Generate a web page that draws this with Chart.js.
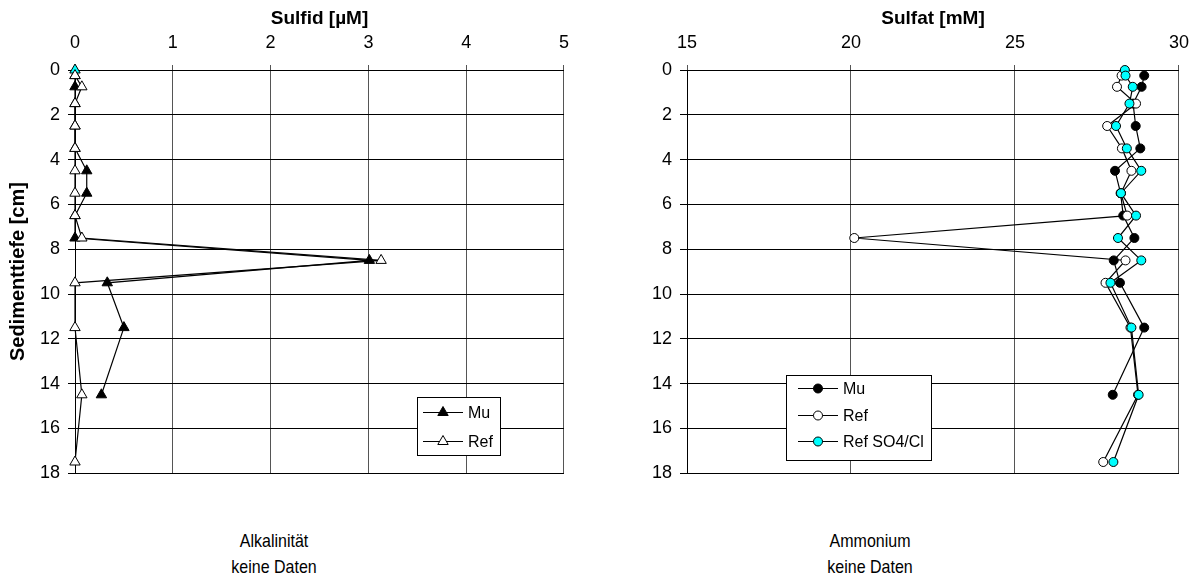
<!DOCTYPE html>
<html>
<head>
<meta charset="utf-8">
<script src="https://cdn.jsdelivr.net/npm/chart.js@4.4.1/dist/chart.umd.min.js"></script>
<style>
    body { margin: 0; background: #fff; width: 1201px; height: 586px; position: relative; overflow: hidden;
           font-family: "Liberation Sans", Arial, sans-serif; }
    canvas { position: absolute; top: 0; }
    #sulfidChart { left: 0; }
    #sulfatChart { left: 600px; }
    .nodata { position: absolute; width: 200px; text-align: center; font-size: 16px; line-height: 23px; color: #000;
              transform: scaleY(1.12); }
</style>
</head>
<body>
<canvas id="sulfidChart" width="580" height="492"></canvas>
<canvas id="sulfatChart" width="600" height="492"></canvas>
<div class="nodata" style="left:174px; top:531px;">Alkalinität<br>keine Daten</div>
<div class="nodata" style="left:770px; top:531px;">Ammonium<br>keine Daten</div>

<script>
// ===== DATA =====
// depth in cm (y), concentration (x)
const sulfidMuDepth = [0.25, 0.75, 1.5, 2.5, 3.5, 4.5, 5.5, 6.5, 7.5, 8.5, 9.5, 11.5, 14.5];
const sulfidMu      = [0, 0, 0, 0, 0, 0.12, 0.12, 0, 0, 3.01, 0.33, 0.5, 0.27];
const sulfidRefDepth = [0, 0.25, 0.75, 1.5, 2.5, 3.5, 4.5, 5.5, 6.5, 7.5, 8.5, 9.5, 11.5, 14.5, 17.5];
const sulfidRef      = [0, 0, 0.07, 0, 0, 0, 0, 0, 0, 0.07, 3.13, 0, 0, 0.07, 0];

const sulfatMuDepth = [0.25, 0.75, 1.5, 2.5, 3.5, 4.5, 5.5, 6.5, 7.5, 8.5, 9.5, 11.5, 14.5];
const sulfatMu      = [28.94, 28.86, 28.6, 28.68, 28.82, 28.05, 28.22, 28.3, 28.64, 28.01, 28.2, 28.94, 27.98];
const sulfatRefDepth = [0.25, 0.75, 1.5, 2.5, 3.5, 4.5, 5.5, 6.5, 7.5, 8.5, 9.5, 11.5, 14.5, 17.5];
const sulfatRef      = [28.25, 28.11, 28.69, 27.81, 28.26, 28.55, 28.23, 28.42, 20.1, 28.37, 27.76, 28.52, 28.75, 27.69];
const sulfatClDepth = [0, 0.25, 0.75, 1.5, 2.5, 3.5, 4.5, 5.5, 6.5, 7.5, 8.5, 9.5, 11.5, 14.5, 17.5];
const sulfatCl      = [28.35, 28.37, 28.59, 28.49, 28.08, 28.41, 28.85, 28.23, 28.69, 28.14, 28.85, 27.91, 28.55, 28.77, 28.0];

const depthTicks = [0, 2, 4, 6, 8, 10, 12, 14, 16, 18];

const FONT = "'Liberation Sans', Arial, sans-serif";

function toPoints(xs, depths) {
    return xs.map((v, i) => ({ x: v, y: depths[i] }));
}

// ===== LEGEND BOX (drawn inside plot) =====
const boxLegend = {
    id: "boxLegend",
    afterDraw(chart, args, o) {
        const ctx = chart.ctx;
        ctx.save();
        ctx.fillStyle = "#fff";
        ctx.fillRect(o.x, o.y, o.w, o.h);
        ctx.strokeStyle = "#000";
        ctx.lineWidth = 1;
        ctx.strokeRect(o.x + 0.5, o.y + 0.5, o.w, o.h);
        chart.data.datasets.forEach((ds, i) => {
            const y = Math.round(o.y + o.first + i * o.gap) + 0.5;
            ctx.strokeStyle = "#000";
            ctx.lineWidth = 1.2;
            ctx.beginPath();
            ctx.moveTo(o.x + o.line0, y);
            ctx.lineTo(o.x + o.line1, y);
            ctx.stroke();
            const bg = ds.pointBackgroundColor;
            ctx.fillStyle = Array.isArray(bg) ? bg[bg.length - 1] : bg;
            ctx.lineWidth = 1;
            Chart.helpers.drawPoint(ctx, { pointStyle: ds.pointStyle, radius: ds.pointRadius, borderWidth: 1, rotation: 0 },
                o.x + (o.line0 + o.line1) / 2, y);
            ctx.fillStyle = "#000";
            ctx.font = "16px " + FONT;
            ctx.textBaseline = "middle";
            ctx.fillText(ds.label, o.x + o.text, y + 1);
        });
        ctx.restore();
    }
};

function makeOptions(xMin, xMax, xStep, xTitle, yTitle, yWidth, padRight, legend) {
    return {
        responsive: false,
        animation: false,
        devicePixelRatio: 1,
        layout: { padding: { left: 0, top: 0, right: padRight, bottom: 9 } },
        plugins: {
            legend: { display: false },
            tooltip: { enabled: false },
            boxLegend: legend,
        },
        scales: {
            x: {
                type: "linear",
                position: "top",
                min: xMin, max: xMax,
                afterFit(s) { s.height = 70; },
                ticks: { stepSize: xStep, color: "#000", padding: 11, font: { family: FONT, size: 18 } },
                grid: { color: "#555", lineWidth: 1, tickLength: 5, tickColor: "#555" },
                border: { color: "#000", width: 1 },
                title: { display: true, text: xTitle, color: "#000", padding: { top: 7, bottom: 0 },
                         font: { family: FONT, size: 19, weight: "bold" } },
            },
            y: {
                type: "linear",
                reverse: true,
                min: 0, max: 18,
                afterFit(s) { s.width = yWidth; },
                afterBuildTicks(s) { s.ticks = depthTicks.map(v => ({ value: v })); },
                ticks: { color: "#000", padding: 8, font: { family: FONT, size: 18 } },
                grid: { color: "#000", lineWidth: 1, tickLength: 7, tickColor: "#000" },
                border: { color: "#000", width: 1 },
                title: { display: !!yTitle, text: yTitle, color: "#000", padding: { top: 6, bottom: 0 },
                         font: { family: FONT, size: 20, weight: "bold" } },
            },
        },
    };
}

function series(label, xs, depths, style, radius, fill, order) {
    return {
        label: label,
        data: toPoints(xs, depths),
        showLine: true,
        clip: false,
        borderColor: "#000",
        borderWidth: 1.2,
        pointStyle: style,
        pointRadius: radius,
        pointBorderWidth: 1,
        pointBorderColor: "#000",
        pointBackgroundColor: fill,
        order: order,
    };
}

// ===== SULFID =====
new Chart(document.getElementById("sulfidChart"), {
    type: "scatter",
    data: {
        datasets: [
            series("Mu", sulfidMu, sulfidMuDepth, "triangle", 6, "#000", 2),
            series("Ref", sulfidRef, sulfidRefDepth, "triangle", 6,
                sulfidRef.map((v, i) => i === 0 ? "#00ffff" : "#fff"), 1),
        ],
    },
    options: makeOptions(0, 5, 1, "Sulfid [µM]", "Sedimenttiefe [cm]", 75, 15,
        { x: 417, y: 397, w: 83, h: 58, first: 15, gap: 29, line0: 6, line1: 46, text: 51 }),
    plugins: [boxLegend],
});

// ===== SULFAT =====
new Chart(document.getElementById("sulfatChart"), {
    type: "scatter",
    data: {
        datasets: [
            series("Mu", sulfatMu, sulfatMuDepth, "circle", 4.5, "#000", 3),
            series("Ref", sulfatRef, sulfatRefDepth, "circle", 4.5, "#fff", 2),
            series("Ref SO4/Cl", sulfatCl, sulfatClDepth, "circle", 4.5, "#00ffff", 1),
        ],
    },
    options: makeOptions(15, 30, 5, "Sulfat [mM]", "", 87, 18,
        { x: 186, y: 375, w: 145, h: 85, first: 13, gap: 26.5, line0: 12, line1: 52, text: 57 }),
    plugins: [boxLegend],
});
</script>
</body>
</html>
